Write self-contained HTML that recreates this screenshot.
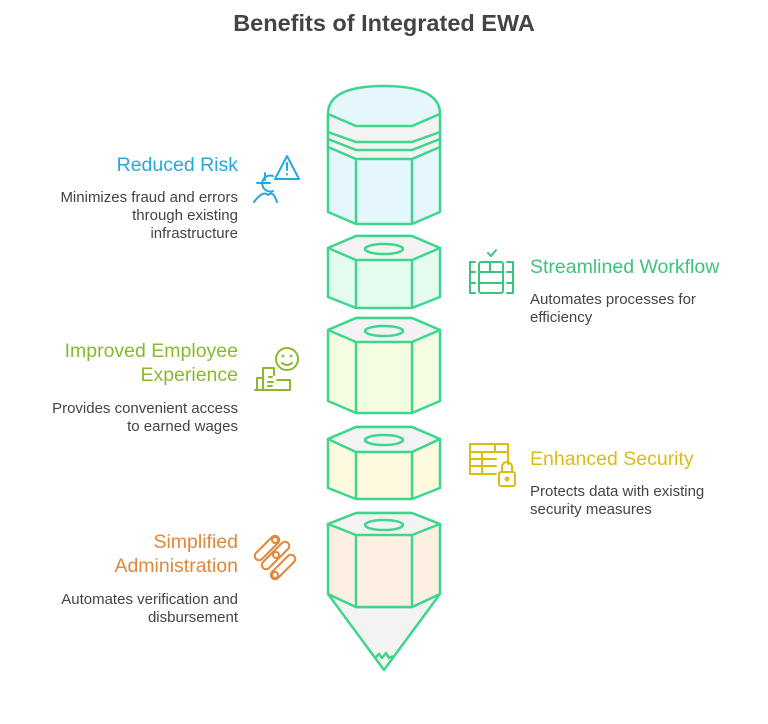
<!DOCTYPE html>
<html><head><meta charset="utf-8"><style>
html,body{margin:0;padding:0;background:#fff;}
svg{display:block;}
text{font-family:"Liberation Sans",sans-serif;}
.h{font-size:19.5px;}
.d{font-size:15px;fill:#444;}
</style></head><body>
<svg width="768" height="724" viewBox="0 0 768 724" xmlns="http://www.w3.org/2000/svg">
<text x="384" y="31" text-anchor="middle" font-size="23.5" font-weight="bold" fill="#444">Benefits of Integrated EWA</text>

<g stroke="#3dd68c" stroke-width="2.5" stroke-linejoin="round" fill="none">
<path d="M328,114 Q328,86 384,86 Q440,86 440,114 L440,212 L412,224 L356,224 L328,212 Z" fill="#e6f6fd"/>
<path d="M328,114 L356,126 L412,126 L440,114 L440,147 L412,159 L356,159 L328,147 Z" fill="#f3f3f3"/>
<path d="M328,132 L356,142 L412,142 L440,132 M328,139 L356,150 L412,150 L440,139"/>
<path d="M356,159 L356,224 M412,159 L412,224"/>
<path d="M328,248 L356,236 L412,236 L440,248 L440,297 L412,308 L356,308 L328,297 Z" fill="#e3fcee"/>
<path d="M328,248 L356,236 L412,236 L440,248 L412,260 L356,260 Z" fill="#f3f3f3"/>
<path d="M356,260 L356,308 M412,260 L412,308"/>
<ellipse cx="384" cy="249" rx="19" ry="5"/>
<path d="M328,330 L356,318 L412,318 L440,330 L440,401 L412,413 L356,413 L328,401 Z" fill="#f3fde0"/>
<path d="M328,330 L356,318 L412,318 L440,330 L412,342 L356,342 Z" fill="#f3f3f3"/>
<path d="M356,342 L356,413 M412,342 L412,413"/>
<ellipse cx="384" cy="331" rx="19" ry="5"/>
<path d="M328,439 L356,427 L412,427 L440,439 L440,488 L412,499 L356,499 L328,488 Z" fill="#fefadf"/>
<path d="M328,439 L356,427 L412,427 L440,439 L412,452 L356,452 Z" fill="#f3f3f3"/>
<path d="M356,452 L356,499 M412,452 L412,499"/>
<ellipse cx="384" cy="440" rx="19" ry="5"/>
<path d="M328,594 L384,670 L440,594 L412,607 L356,607 Z" fill="#f3f3f3"/>
<path d="M375,658 L379,654 L382,658 L386,653 L389,658 L393,656"/>
<path d="M328,524 L356,513 L412,513 L440,524 L440,594 L412,607 L356,607 L328,594 Z" fill="#fdf0e3"/>
<path d="M328,524 L356,513 L412,513 L440,524 L412,535 L356,535 Z" fill="#f3f3f3"/>
<path d="M356,535 L356,607 M412,535 L412,607"/>
<ellipse cx="384" cy="525" rx="19" ry="5"/>
</g>

<g fill="none" stroke-width="2" stroke-linecap="round" stroke-linejoin="round">
<g stroke="#25a9dd">
<path d="M275,179 L287,156 L299,179 Z"/><path d="M287,163 L287,170 M287,174 L287,174.5"/>
<path d="M273,176 A8,8 0 1 0 273,191 M257,183 L270,183 M265,173 L265,180"/>
<path d="M254,202 Q263,190 268,195 Q273,190 277,202"/>
</g>
<g stroke="#3cc47c">
<rect x="479" y="262" width="24" height="31" rx="2"/>
<path d="M479,272 L503,272 M479,283 L503,283 M490,262 L490,272"/>
<path d="M475,262 L470,262 L470,293 L475,293 M470,272 L475,272 M470,283 L475,283"/>
<path d="M507,262 L513,262 L513,293 L507,293 M507,272 L513,272 M507,283 L513,283"/>
<path d="M488,253 L491,256 L496,250"/>
</g>
<g stroke="#8ab92d">
<circle cx="287" cy="359" r="11"/><path d="M282,363 Q287,367 292,363"/><circle cx="283" cy="356" r="0.5"/><circle cx="291" cy="356" r="0.5"/>
<path d="M255,390 L290,390 M257,390 L257,378 L263,378 L263,368 L274,368 L274,375 M263,378 L263,390 M277,380 L290,380 L290,390 M269,377 L272,377 M268,382 L273,382 M268,386 L272,386"/>
</g>
<g stroke="#d9bd12">
<path d="M508,464 L508,444 L470,444 L470,474 L496,474"/>
<path d="M470,452 L508,452 M470,459 L496,459 M470,466 L496,466 M482,452 L482,474 M495,444 L495,452"/>
<rect x="499" y="472" width="16" height="14" rx="2"/><path d="M502,472 L502,467 A5,5 0 0 1 512,467 L512,472"/><circle cx="507" cy="479" r="1.5"/>
</g>
<g stroke="#e4873a">
<path d="M256,553 L272,537 A4,4 0 0 1 278,543 L262,559 A4,4 0 0 1 256,553 Z"/>
<path d="M263,562 L282,543 A4,4 0 0 1 288,549 L269,568 A4,4 0 0 1 263,562 Z"/>
<path d="M272,572 L288,556 A4,4 0 0 1 294,562 L278,578 A4,4 0 0 1 272,572 Z"/>
<circle cx="275" cy="540" r="3"/><circle cx="276" cy="555" r="3"/><circle cx="275" cy="575" r="3"/>
</g>
</g>

<text class="h" x="238" y="171" text-anchor="end" fill="#25a9dd">Reduced Risk</text>
<text class="d" x="238" y="202" text-anchor="end">Minimizes fraud and errors</text>
<text class="d" x="238" y="220" text-anchor="end">through existing</text>
<text class="d" x="238" y="238" text-anchor="end">infrastructure</text>

<text class="h" x="530" y="273" fill="#3cc47c">Streamlined Workflow</text>
<text class="d" x="530" y="304">Automates processes for</text>
<text class="d" x="530" y="322">efficiency</text>

<text class="h" x="238" y="357" text-anchor="end" fill="#8ab92d">Improved Employee</text>
<text class="h" x="238" y="381" text-anchor="end" fill="#8ab92d">Experience</text>
<text class="d" x="238" y="413" text-anchor="end">Provides convenient access</text>
<text class="d" x="238" y="431" text-anchor="end">to earned wages</text>

<text class="h" x="530" y="465" fill="#d9bd12">Enhanced Security</text>
<text class="d" x="530" y="496">Protects data with existing</text>
<text class="d" x="530" y="514">security measures</text>

<text class="h" x="238" y="548" text-anchor="end" fill="#e4873a">Simplified</text>
<text class="h" x="238" y="572" text-anchor="end" fill="#e4873a">Administration</text>
<text class="d" x="238" y="604" text-anchor="end">Automates verification and</text>
<text class="d" x="238" y="622" text-anchor="end">disbursement</text>
</svg>
</body></html>
